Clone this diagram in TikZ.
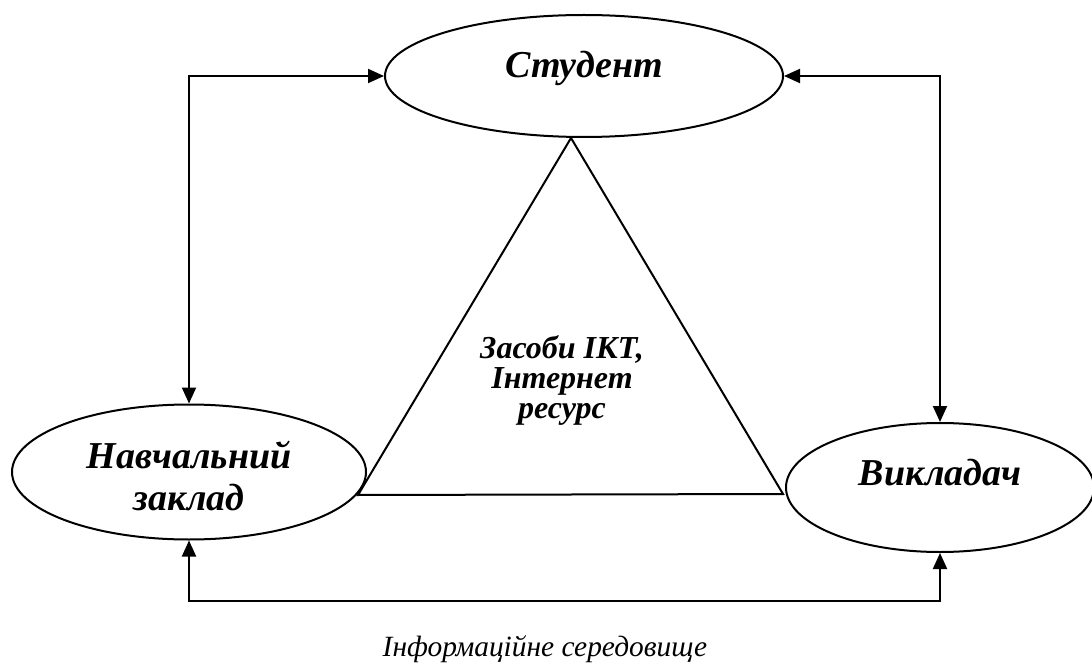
\documentclass[tikz,border=0pt]{standalone}
\usepackage{fontspec}
\setmainfont{Liberation Serif}
\usetikzlibrary{arrows.meta,shapes.geometric}
\newcommand{\lnk}[2]{\draw[<->] (#1) -| (#2);}

\begin{document}
\begin{tikzpicture}[x=0.5pt,y=-0.5pt,>={Triangle[length=8pt,width=7pt]},line width=1pt,
  role/.style={draw,ellipse,inner sep=0pt,align=center,font=\fontsize{19}{21}\selectfont\bfseries\itshape}]
  \useasboundingbox (0,0) rectangle (1092,668);
  \node[role,minimum width=199pt,minimum height=61pt,text height=12pt,text depth=10pt] (stud) at (584,76) {Студент};
  \node[role,minimum width=177pt,minimum height=67.5pt] (nav) at (189,472) {\rule{0pt}{17.5pt}Навчальний\\заклад};
  \node[role,minimum width=154pt,minimum height=64.5pt,text height=11pt,text depth=13pt] (vyk) at (940,487.5) {Викладач};
  \coordinate (top) at (571,138);
  \coordinate (left) at (358,495);
  \coordinate (right) at (783,494);
  \draw (top) -- (left) -- (right) -- cycle;
  \node[align=center,font=\fontsize{16}{15}\selectfont\bfseries\itshape] (ikt) at (562,380) {Засоби ІКТ,\\Інтернет\\ресурс};
  \lnk{stud.west}{nav.north}
  \lnk{stud.east}{vyk.north}
  \draw[<->] (nav.south) -- ++(0,60) -| (vyk.south);
  \node[font=\fontsize{14.7}{18}\selectfont\itshape] (env) at (545,649) {Інформаційне середовище};
\end{tikzpicture}
\end{document}
